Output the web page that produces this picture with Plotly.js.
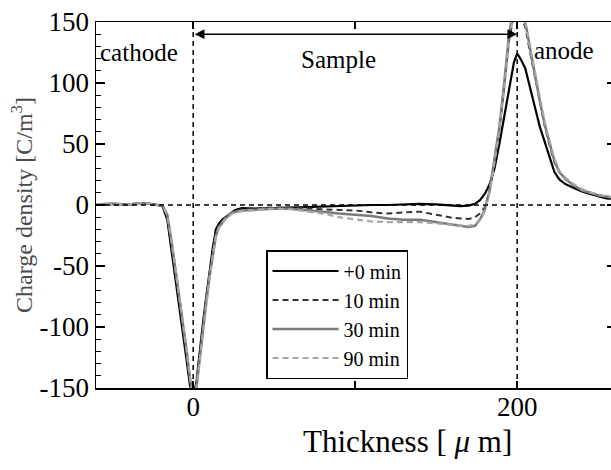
<!DOCTYPE html>
<html>
<head>
<meta charset="utf-8">
<script src="https://cdn.plot.ly/plotly-3.0.1.min.js"></script>
<style>
html,body{margin:0;padding:0;overflow:hidden;background:#fff;}
#chart{width:616px;height:470px;}
</style>
</head>
<body>
<div id="chart"></div>
<script>
// Thickness positions [µm]
const xBase = [-60,-50,-40,-30,-22,-19,-16,-13,-10,-7,-4,-2,0,2,4,6,8,10,12,14,16,18,20,23,26,30,35,40,50,60,70,80,90,100,110,120,130,140,150,160,165,170,174,177,180,183,186,189,192,195,198,200,202,205,208,211,214,217,220,223,226,230,235,240,245,250,255,260];

// Charge density [C/m^3]
const min0 = [0.5,1,0.5,1.5,0,-1,-12,-40,-70,-98,-128,-148,-158,-145,-120,-97,-76,-55,-36,-20,-15,-12,-10,-6.5,-4,-2.5,-3,-3,-2.5,-2,-1.5,-1,-1,-0.5,0,0,0.5,1,0.5,-0.5,-1,-0.5,1,4,9,17,30,50,72,97,117,124,120,112,95,80,64,52,40,27,21,17,14,11,9,7,5.5,5];
const min10 = [0.5,1,0.5,1.5,0,-0.5,-9,-35,-64,-92,-122,-144,-158,-148,-124,-100,-79,-58,-39,-23,-16,-13,-10.5,-7,-5,-3.5,-3,-3,-2,-2,-3,-3.5,-4,-4.5,-6,-7,-6,-5.5,-8,-10.5,-11,-11.5,-10,-7,-2,12,36,62,96,135,156,160,157,146,125,104,84,65,49,35,27,21,16,12,10,8,7,6];
const min30 = [0.5,1,0.5,1.5,0,-0.5,-8,-33,-62,-90,-120,-142,-158,-150,-126,-102,-80,-60,-41,-25,-18,-14,-11,-7.5,-5.5,-4.5,-4,-3.5,-3,-3,-4,-5.5,-7,-8,-9,-11,-12,-12,-14,-16.5,-17.5,-18,-17,-12,-4,12,38,64,100,140,163,168,165,150,128,106,85,66,50,36,27,21,16,12,10,8,7,6];
const min90 = [0.5,1,0.5,1.5,0,-0.5,-8,-32,-61,-89,-119,-141,-158,-150,-127,-103,-81,-61,-42,-26,-18,-14,-11,-8,-6,-5,-4.5,-4,-3,-3.5,-5,-7,-10,-12,-13.5,-14,-14,-14,-15,-16.5,-17,-17,-16,-12,-5,10,34,60,95,135,158,162,161,150,129,108,87,68,52,38,28,22,17,13,10.5,8.5,7,6];

const seriesNames = ['+0 min','10 min','30 min','90 min'];
const yTickVals = [-150,-100,-50,0,50,100,150];
const yTickText = ['-150','-100','-50','0','50','100','150'];
const xTickVals = [0,100,200];
const xTickText = ['0','','200'];

const FONT = 'Liberation Serif';

const traces = [
  {x:xBase,y:min0,name:seriesNames[0],mode:'lines',line:{color:'#000000',width:2.2}},
  {x:xBase,y:min10,name:seriesNames[1],mode:'lines',line:{color:'#333333',width:2,dash:'6px,4px'}},
  {x:xBase,y:min30,name:seriesNames[2],mode:'lines',line:{color:'#7a7a7a',width:2.5}},
  {x:xBase,y:min90,name:seriesNames[3],mode:'lines',line:{color:'#a6a6a6',width:2.2,dash:'6px,4px'}}
];

const dashLine = {color:'#000',width:1.5,dash:'5px,4px'};

const layout = {
  width:616, height:470,
  margin:{l:96,r:0,t:22,b:82},
  paper_bgcolor:'#fff', plot_bgcolor:'#fff',
  font:{family:FONT,color:'#000',size:24},
  showlegend:true,
  legend:{x:0.327,y:0.377,xanchor:'left',yanchor:'top',bgcolor:'#fff',bordercolor:'#000',borderwidth:1.5,
          font:{family:FONT,size:20,color:'#000'},tracegroupgap:0,itemwidth:66},
  xaxis:{range:[-60,261],tickvals:xTickVals,ticktext:xTickText,ticks:'inside',ticklen:7,tickwidth:1.5,tickcolor:'#000',
         showline:true,linecolor:'#000',linewidth:1.5,mirror:'ticks',showgrid:false,zeroline:false,
         ticklabelstandoff:-6,
         tickfont:{family:FONT,size:27,color:'#000'}},
  yaxis:{range:[-150,150],tickvals:yTickVals,ticktext:yTickText,ticks:'inside',ticklen:9,tickwidth:1.5,tickcolor:'#000',
         minor:{dtick:10,tick0:0,ticks:'inside',ticklen:5,tickwidth:1.2,tickcolor:'#000'},
         showline:true,linecolor:'#000',linewidth:1.5,mirror:'ticks',showgrid:false,zeroline:false,
         tickfont:{family:FONT,size:27,color:'#000'},
         title:{text:'Charge density [C/m<sup>3</sup>]',font:{family:FONT,size:24,color:'#4a4a4a'},standoff:0}},
  shapes:[
    {type:'line',xref:'x',yref:'paper',x0:0,x1:0,y0:0,y1:1,line:dashLine},
    {type:'line',xref:'x',yref:'paper',x0:200,x1:200,y0:0,y1:1,line:dashLine},
    {type:'line',xref:'paper',yref:'y',x0:0,x1:1,y0:0,y1:0,line:dashLine}
  ],
  annotations:[
    {x:200,y:140,ax:0,ay:140,xref:'x',yref:'y',axref:'x',ayref:'y',text:'',showarrow:true,
     arrowhead:2,arrowside:'end+start',arrowsize:1.3,arrowwidth:1.5,arrowcolor:'#000',standoff:0,startstandoff:0},
    {x:-58.5,y:125,xref:'x',yref:'y',text:'cathode',showarrow:false,xanchor:'left',yanchor:'middle',
     font:{family:FONT,size:25,color:'#000'}},
    {x:89.5,y:119,xref:'x',yref:'y',text:'Sample',showarrow:false,xanchor:'center',yanchor:'middle',
     font:{family:FONT,size:25,color:'#000'}},
    {x:209,y:127,xref:'x',yref:'y',text:'anode',showarrow:false,xanchor:'left',yanchor:'middle',
     font:{family:FONT,size:25,color:'#000'}},
    {x:0.599,y:-0.145,xref:'paper',yref:'paper',text:'Thickness [ <i>μ</i> m]',showarrow:false,xanchor:'center',yanchor:'middle',
     font:{family:FONT,size:31,color:'#000'}}
  ]
};

Plotly.newPlot('chart',traces,layout,{staticPlot:true,displayModeBar:false});
</script>
</body>
</html>
